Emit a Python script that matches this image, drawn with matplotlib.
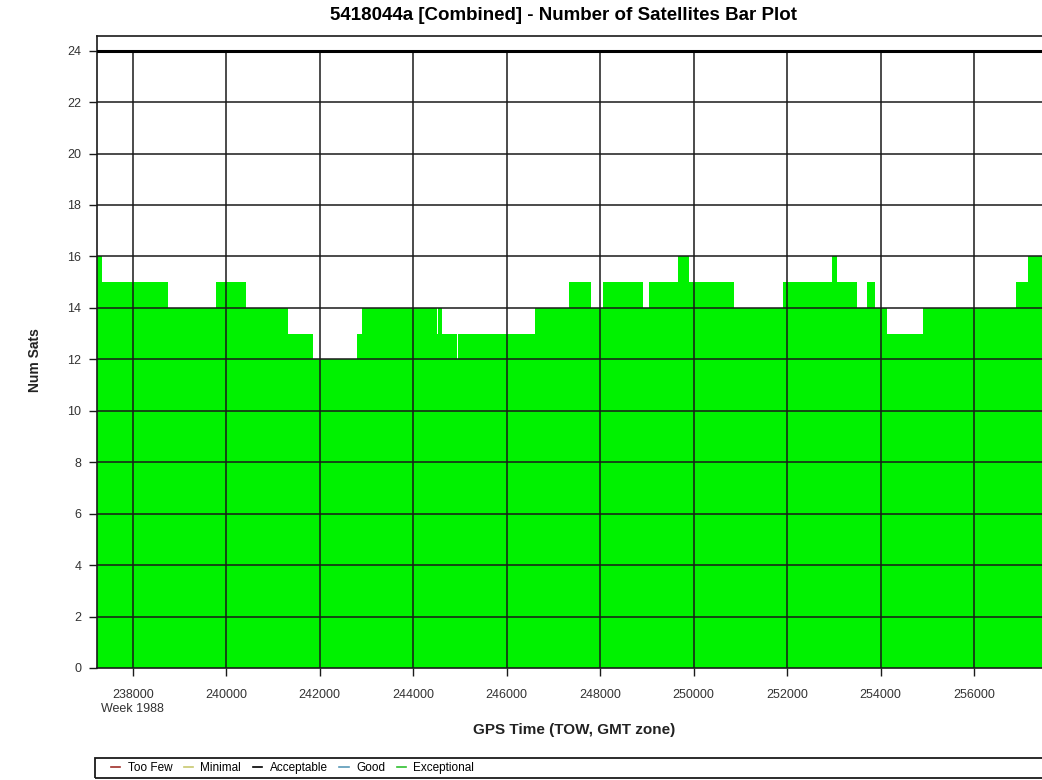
import numpy as np
import matplotlib
matplotlib.use('Agg')
import matplotlib.pyplot as plt
from matplotlib.lines import Line2D
from matplotlib.patches import Rectangle

plt.rcParams['font.family'] = ['Liberation Sans', 'DejaVu Sans']

# step edges (GPS TOW seconds) and number of satellites in each interval
edges = [237230, 237350, 238750, 239780, 240420, 241330, 241860, 242790, 242900,
         244500, 244520, 244610, 244930, 244950, 246605, 247340, 247800, 248050,
         248920, 249050, 249670, 249905, 250870, 251905, 252950, 253070, 253485,
         253715, 253870, 254130, 254900, 256890, 257155, 257450]
num_sats = [16, 15, 14, 15, 14, 13, 12, 13, 14, 13, 14, 13, 12, 13, 14, 15, 14, 15,
            14, 15, 16, 15, 14, 15, 16, 15, 14, 15, 14, 13, 14, 15, 16]

x_ticks = [238000, 240000, 242000, 244000, 246000, 248000, 250000, 252000, 254000, 256000]
x_tick_labels = ['238000\nWeek 1988', '240000', '242000', '244000', '246000',
                 '248000', '250000', '252000', '254000', '256000']
y_ticks = [0, 2, 4, 6, 8, 10, 12, 14, 16, 18, 20, 22, 24]

legend_names = ['Too Few', 'Minimal', 'Acceptable', 'Good', 'Exceptional']
legend_colors = ['#a0302a', '#c8c870', '#000000', '#5a9ab8', '#30c030']

W, H = 1042, 780
fig = plt.figure(figsize=(W / 100, H / 100), dpi=100)
ax = fig.add_axes([96.7 / W, 1 - 668 / H, 1 - 96.7 / W, (668 - 36) / H])

ax.stairs(num_sats, edges, fill=True, baseline=0, color='#00f200', zorder=1)

# grid: horizontal lines full width, vertical ones only up to 24
for y in y_ticks[1:-1]:
    ax.axhline(y, color='#1a1a1a', lw=1.1, zorder=2)
ax.axhline(24, color='#000000', lw=2.2, zorder=3)
ax.vlines(x_ticks, 0, 24, color='#1a1a1a', lw=1.1, zorder=2)

ax.set_xlim(237230, 257450)
ax.set_ylim(0, 24.57)
ax.set_xticks(x_ticks)
ax.set_xticklabels(x_tick_labels)
ax.set_yticks(y_ticks)
ax.tick_params(axis='both', direction='out', length=6, width=1, color='#1a1a1a',
               labelsize=9, labelcolor='#333333', pad=5)
ax.tick_params(axis='x', pad=9)
for s in ['left', 'top', 'bottom']:
    ax.spines[s].set_linewidth(1.2)
    ax.spines[s].set_color('#1a1a1a')
ax.spines['right'].set_visible(False)

fig.text(564 / W, 1 - 15 / H, '5418044a [Combined] - Number of Satellites Bar Plot',
         ha='center', va='center', fontsize=13.5, fontweight='bold',
         family=['Liberation Sans Narrow', 'Liberation Sans', 'DejaVu Sans'])
fig.text(574 / W, 1 - 730 / H, 'GPS Time (TOW, GMT zone)', ha='center', va='center',
         fontsize=11, fontweight='bold', color='#222222')
fig.text(35 / W, 1 - 360 / H, 'Num Sats', ha='center', va='center', rotation=90,
         fontsize=10, fontweight='bold', color='#222222')

# legend strip along the bottom
fig.patches.append(Rectangle((95 / W, 1 - 778 / H), 1 - 95 / W + 0.01, 20 / H,
                             transform=fig.transFigure, fill=False, lw=1.3,
                             edgecolor='#1a1a1a'))
handles = [Line2D([], [], color=c, lw=1.2) for c in legend_colors]
fig.legend(handles, legend_names, loc='center left', ncol=5, frameon=False,
           bbox_to_anchor=(111 / W, 1 - 768 / H), fontsize=8.5, handlelength=0.8,
           handletextpad=0.6, columnspacing=1.0, borderaxespad=0, borderpad=0)

fig.savefig('out.png', dpi=100)
